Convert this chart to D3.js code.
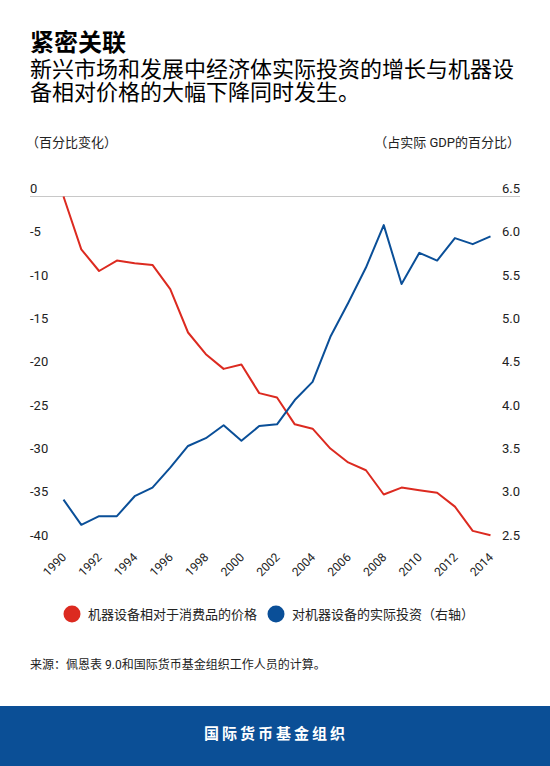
<!DOCTYPE html>
<html>
<head>
<meta charset="utf-8">
<script src="https://cdn.jsdelivr.net/npm/d3@7"></script>
<style>
  html, body { margin: 0; padding: 0; background: #fff; }
  svg { display: block; font-family: "Roboto", "Noto Sans CJK SC", sans-serif; }
</style>
</head>
<body>
<svg id="chart" width="550" height="766"></svg>
<script>
const years = d3.range(1990, 2015);
const priceSeries = [0, -6.1, -8.6, -7.4, -7.7, -7.9, -10.7, -15.7, -18.2, -19.9, -19.4, -22.7, -23.2, -26.3, -26.8, -29.1, -30.7, -31.6, -34.4, -33.6, -33.9, -34.2, -35.8, -38.6, -39.1];
const investSeries = [3.0, 2.71, 2.81, 2.81, 3.04, 3.14, 3.37, 3.62, 3.71, 3.86, 3.68, 3.85, 3.87, 4.15, 4.36, 4.88, 5.27, 5.68, 6.17, 5.49, 5.85, 5.76, 6.02, 5.95, 6.04];
const leftTicks = [0, -5, -10, -15, -20, -25, -30, -35, -40];
const rightTicks = [6.5, 6.0, 5.5, 5.0, 4.5, 4.0, 3.5, 3.0, 2.5];
const xTickYears = d3.range(1990, 2015, 2);
const seriesNames = ["机器设备相对于消费品的价格", "对机器设备的实际投资（右轴）"];
const colors = ["#dc2a20", "#0a4f98"];

const svg = d3.select("#chart");

// Titles
svg.append("text").attr("x", 30).attr("y", 51).attr("font-size", 24).attr("font-weight", 700)
  .attr("font-family", "'Noto Sans CJK SC'").attr("fill", "#000").text("紧密关联");
svg.append("text").attr("x", 30).attr("y", 77).attr("font-size", 22)
  .attr("font-family", "'Noto Sans CJK SC'").attr("fill", "#000").text("新兴市场和发展中经济体实际投资的增长与机器设");
svg.append("text").attr("x", 30).attr("y", 100).attr("font-size", 22)
  .attr("font-family", "'Noto Sans CJK SC'").attr("fill", "#000").text("备相对价格的大幅下降同时发生。");

// Axis unit labels
svg.append("text").attr("x", 26).attr("y", 147).attr("font-size", 13).attr("fill", "#222").text("（百分比变化）");
svg.append("text").attr("x", 520).attr("y", 147).attr("font-size", 13).attr("fill", "#222")
  .attr("text-anchor", "end").text("（占实际 GDP的百分比）");

// Scales
const x = d3.scaleLinear().domain([1990, 2014]).range([63.5, 490.5]);
const yL = d3.scaleLinear().domain([0, -40]).range([196.5, 543]);
const yR = d3.scaleLinear().domain([6.5, 2.5]).range([196.5, 543]);

// Top gridline
svg.append("line").attr("x1", 30).attr("x2", 520).attr("y1", yL(0)).attr("y2", yL(0))
  .attr("stroke", "#c8c8c8").attr("stroke-width", 1);

// Left axis
const leftAxis = d3.axisLeft(yL).tickValues(leftTicks).tickSize(0).tickFormat(d => d);
const gl = svg.append("g").attr("transform", "translate(30,0)").call(leftAxis);
gl.select(".domain").remove();
gl.selectAll("text").attr("x", 0).attr("text-anchor", "start").attr("dy", "-0.3em")
  .attr("font-size", 13).attr("fill", "#222").attr("font-family", "Roboto");

// Right axis
const rightAxis = d3.axisRight(yR).tickValues(rightTicks).tickSize(0).tickFormat(d3.format(".1f"));
const gr = svg.append("g").attr("transform", "translate(520,0)").call(rightAxis);
gr.select(".domain").remove();
gr.selectAll("text").attr("x", 0).attr("text-anchor", "end").attr("dy", "-0.3em")
  .attr("font-size", 13).attr("fill", "#222").attr("font-family", "Roboto");

// X axis
const xAxis = d3.axisBottom(x).tickValues(xTickYears).tickSize(0).tickFormat(d3.format("d"));
const gx = svg.append("g").attr("transform", "translate(0,558)").call(xAxis);
gx.select(".domain").remove();
gx.selectAll("text").attr("text-anchor", "end").attr("dy", 0).attr("y", 0)
  .attr("transform", "translate(3,0) rotate(-45)")
  .attr("font-size", 12).attr("fill", "#222").attr("font-family", "Roboto");

// Lines
const lineL = d3.line().x((d, i) => x(years[i])).y(d => yL(d));
const lineR = d3.line().x((d, i) => x(years[i])).y(d => yR(d));
svg.append("path").datum(priceSeries).attr("d", lineL).attr("fill", "none")
  .attr("stroke", colors[0]).attr("stroke-width", 2).attr("stroke-linejoin", "round");
svg.append("path").datum(investSeries).attr("d", lineR).attr("fill", "none")
  .attr("stroke", colors[1]).attr("stroke-width", 2).attr("stroke-linejoin", "round");

// Legend
const legendPos = [72, 276];
seriesNames.forEach((name, i) => {
  svg.append("circle").attr("cx", legendPos[i]).attr("cy", 614).attr("r", 8.5).attr("fill", colors[i]);
  svg.append("text").attr("x", legendPos[i] + 16).attr("y", 618.5).attr("font-size", 13)
    .attr("fill", "#222").text(name);
});

// Source
svg.append("text").attr("x", 30).attr("y", 669).attr("font-size", 12).attr("fill", "#222")
  .text("来源：佩恩表 9.0和国际货币基金组织工作人员的计算。");

// Footer
svg.append("rect").attr("x", 0).attr("y", 706).attr("width", 550).attr("height", 60).attr("fill", "#0b4f96");
svg.append("text").attr("x", 276).attr("y", 739).attr("text-anchor", "middle").attr("font-size", 15)
  .attr("font-weight", 700).attr("letter-spacing", 3).attr("fill", "#fff")
  .attr("font-family", "'Noto Sans CJK SC'").text("国际货币基金组织");
</script>
</body>
</html>
